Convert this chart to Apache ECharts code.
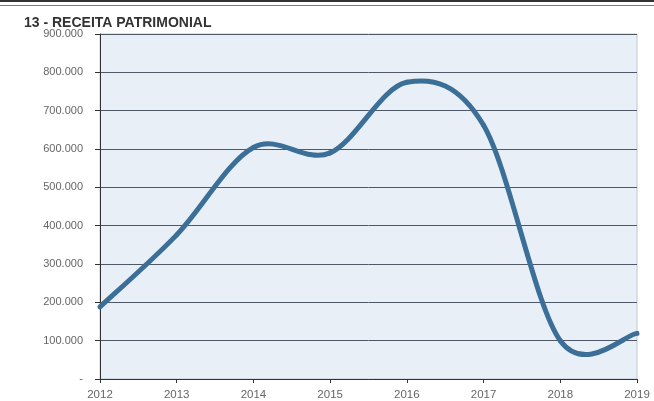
<!DOCTYPE html>
<html>
<head>
<meta charset="utf-8">
<script src="https://cdn.jsdelivr.net/npm/echarts@6/dist/echarts.min.js"></script>
<style>
  html, body { margin: 0; padding: 0; background: #fff; }
  #chart { width: 654px; height: 401px; }
  .topline { position: absolute; left: 0; top: 0; width: 654px; height: 2px; background: #333; }
  .topline2 { position: absolute; left: 0; top: 5px; width: 654px; height: 1px; background: #5a8aa0; }
</style>
</head>
<body>
<div class="topline"></div>
<div class="topline2"></div>
<div id="chart"></div>
<script>
  // dados
  var anos = ['2012', '2013', '2014', '2015', '2016', '2017', '2018', '2019'];
  var receita = [188000, 376000, 604000, 590000, 774000, 662000, 100000, 119000];
  var titulo = '13 - RECEITA PATRIMONIAL';

  function fmt(v) {
    if (v === 0) return '-';
    return String(v).replace(/\B(?=(\d{3})+(?!\d))/g, '.');
  }

  // linha suavizada estilo Excel (catmull-rom), um trecho por ponto
  function renderItem(params, api) {
    var i = params.dataIndex;
    if (i >= receita.length - 1) return null;
    var n = receita.length;
    var p0 = api.coord([Math.max(i - 1, 0), receita[Math.max(i - 1, 0)]]);
    var p1 = api.coord([i, receita[i]]);
    var p2 = api.coord([i + 1, receita[i + 1]]);
    var p3 = api.coord([Math.min(i + 2, n - 1), receita[Math.min(i + 2, n - 1)]]);
    return {
      type: 'bezierCurve',
      shape: {
        x1: p1[0], y1: p1[1],
        cpx1: p1[0] + (p2[0] - p0[0]) / 6, cpy1: p1[1] + (p2[1] - p0[1]) / 6,
        cpx2: p2[0] - (p3[0] - p1[0]) / 6, cpy2: p2[1] - (p3[1] - p1[1]) / 6,
        x2: p2[0], y2: p2[1]
      },
      style: { stroke: '#3c6f98', lineWidth: 5, fill: null, lineCap: 'round' }
    };
  }

  var myChart = echarts.init(document.getElementById('chart'));
  myChart.setOption({
    animation: false,
    title: {
      text: titulo,
      left: 19,
      top: 11,
      textStyle: { fontFamily: 'Liberation Sans', fontSize: 14, fontWeight: 'bold', color: '#333' }
    },
    grid: {
      left: 100,
      right: 17,
      top: 34,
      bottom: 20,
      show: true,
      backgroundColor: '#e9eff6',
      borderColor: '#b8c8d8',
      borderWidth: 1
    },
    xAxis: {
      type: 'category',
      data: anos,
      boundaryGap: false,
      axisLine: { lineStyle: { color: '#333', width: 1 } },
      axisTick: { show: true, length: 4, lineStyle: { color: '#333' } },
      axisLabel: { color: '#666', fontFamily: 'Liberation Sans', fontSize: 11.5, margin: 10 },
      splitLine: { show: false }
    },
    yAxis: {
      type: 'value',
      min: 0,
      max: 900000,
      interval: 100000,
      axisLine: { show: true, lineStyle: { color: '#333', width: 1 } },
      axisTick: { show: true, length: 5, lineStyle: { color: '#333' } },
      axisLabel: {
        color: '#666', fontFamily: 'Liberation Sans', fontSize: 11, margin: 17,
        formatter: fmt
      },
      splitLine: { show: true, lineStyle: { color: '#4e5866', width: 1 } }
    },
    series: [
      {
        name: titulo,
        type: 'custom',
        renderItem: renderItem,
        clip: false,
        data: receita.map(function (v, i) { return [i, v]; })
      }
    ]
  });
</script>
</body>
</html>
